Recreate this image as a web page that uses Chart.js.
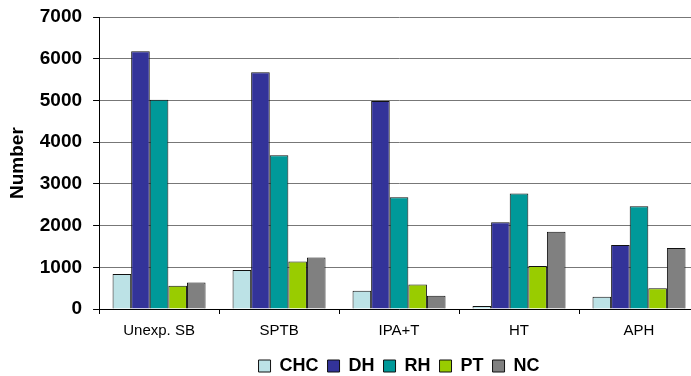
<!DOCTYPE html>
<html>
<head>
<meta charset="utf-8">
<script src="https://cdn.jsdelivr.net/npm/chart.js@4"></script>
<style>
  html, body { margin: 0; padding: 0; background: #fff; overflow: hidden; }
  canvas { display: block; }
</style>
</head>
<body>
<canvas id="chart" width="700" height="376"></canvas>
<script>
const categories = ["Unexp. SB", "SPTB", "IPA+T", "HT", "APH"];
const seriesNames = ["CHC", "DH", "RH", "PT", "NC"];
const chc = [840, 935, 440, 70, 295];
const dh = [6180, 5680, 4990, 2080, 1535];
const rh = [5020, 3690, 2680, 2770, 2465];
const pt = [560, 1140, 585, 1030, 500];
const nc = [635, 1235, 320, 1855, 1465];
const colors = ["#BCE2E6", "#333399", "#009999", "#99CC00", "#808080"];

const font = "'Liberation Sans', Arial, sans-serif";
const values = [chc, dh, rh, pt, nc];

const ctx = document.getElementById("chart").getContext("2d");
const chart = new Chart(ctx, {
  type: "bar",
  data: {
    labels: categories,
    datasets: seriesNames.map((name, i) => ({
      label: name,
      data: values[i],
      backgroundColor: colors[i],
      borderColor: "#111",
      borderWidth: 1,
      categoryPercentage: 0.775,
      barPercentage: 1.0
    }))
  },
  options: {
    responsive: false,
    animation: false,
    layout: { padding: { top: 0, right: 1, left: 0, bottom: -9 } },
    plugins: {
      legend: {
        position: "bottom",
        fullSize: false,
        labels: {
          boxWidth: 12,
          boxHeight: 12,
          padding: 9,
          color: "#000",
          font: { family: font, size: 18, weight: "bold" }
        }
      },
      tooltip: { enabled: false }
    },
    scales: {
      x: {
        grid: { offset: true, drawOnChartArea: false, tickLength: 5, color: "#000" },
        border: { color: "#000", width: 1 },
        ticks: { color: "#000", padding: 8, font: { family: font, size: 15 } }
      },
      y: {
        min: 0,
        max: 7000,
        ticks: {
          stepSize: 1000, color: "#000", padding: 11,
          font: { family: font, size: 19, weight: "bold", lineHeight: 0.65 },
          callback: v => String(v)
        },
        grid: { color: "#777", tickLength: 6, tickColor: "#000" },
        border: { color: "#000", width: 1 },
        title: {
          display: true,
          text: "Number",
          color: "#000",
          padding: { top: 6, bottom: 0 },
          font: { family: font, size: 19, weight: "bold" }
        }
      }
    }
  }
});
</script>
</body>
</html>
